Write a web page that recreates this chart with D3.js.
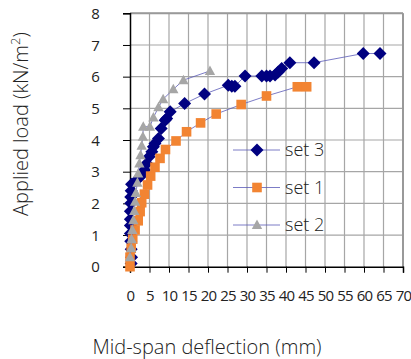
<!DOCTYPE html>
<html>
<head>
<meta charset="utf-8">
<script src="https://cdn.jsdelivr.net/npm/d3@7"></script>
<style>
  body { margin: 0; background: #fff; }
  text { font-family: "Open Sans", "Noto Sans", sans-serif; fill: #222; }
</style>
</head>
<body>
<div id="chart"></div>
<script>
// deflection (mm), load (kN/m2)
var set3 = [[0.3,0.1],[0.4,0.3],[0.3,0.55],[0.2,0.8],[0.1,1.05],[0.1,1.3],[0.1,1.5],[0.1,1.75],
  [0.2,2.0],[0.2,2.2],[0.3,2.4],[0.4,2.6],[1.7,2.73],[3.0,2.89],[3.7,3.05],[4.3,3.26],[4.9,3.47],
  [5.6,3.63],[6.0,3.79],[6.4,3.89],[7.3,4.05],[8.0,4.36],[9.0,4.62],[9.4,4.68],[10.3,4.89],
  [14.0,5.15],[19.1,5.45],[25.2,5.73],[26.1,5.70],[26.9,5.70],[29.5,6.02],[33.8,6.02],[35.0,6.02],
  [35.9,6.02],[37.2,6.05],[38.0,6.15],[38.9,6.26],[41.0,6.44],[47.2,6.44],[59.8,6.73],[64.1,6.73]];
var set1 = [[0,0],[0,0.30],[0.3,0.58],[0.7,0.87],[1.3,1.16],[2.1,1.45],[2.6,1.74],[3.0,2.02],
  [3.7,2.29],[4.5,2.58],[5.3,2.86],[6.4,3.14],[7.7,3.42],[9.1,3.70],[11.8,3.97],[14.5,4.26],
  [18.1,4.54],[22.1,4.82],[28.5,5.12],[35.0,5.39],[42.9,5.68],[45.3,5.68]];
var set2 = [[0,0.30],[0.3,0.58],[0.4,0.87],[0.6,1.16],[0.85,1.47],[1.1,1.76],[1.3,2.05],[1.5,2.33],
  [1.9,2.65],[2.1,2.94],[2.4,3.26],[2.7,3.52],[3.0,3.82],[3.3,4.10],[3.4,4.42],[5.1,4.42],
  [6.0,4.71],[7.3,5.03],[8.5,5.29],[11.1,5.60],[13.7,5.89],[20.5,6.18]];
var xTicks = [0,5,10,15,20,25,30,35,40,45,50,55,60,65,70];
var yTicks = [0,1,2,3,4,5,6,7,8];

var W = 411, H = 359;
var svg = d3.select("#chart").append("svg").attr("width", W).attr("height", H);

var x = d3.scaleLinear().domain([0, 70]).range([130, 403]);
var y = d3.scaleLinear().domain([0, 8]).range([266.7, 13.3]);

// grid
svg.append("g").selectAll("line").data(xTicks.slice(1)).enter().append("line")
  .attr("x1", d => x(d)).attr("x2", d => x(d))
  .attr("y1", y(0)).attr("y2", y(8))
  .attr("stroke", "#a6a6a6").attr("stroke-width", 1.2);
svg.append("g").selectAll("line").data(yTicks.slice(1)).enter().append("line")
  .attr("x1", x(0)).attr("x2", x(70))
  .attr("y1", d => y(d)).attr("y2", d => y(d))
  .attr("stroke", "#a6a6a6").attr("stroke-width", 1.2);
svg.append("line").attr("x1", x(70)).attr("x2", x(70)).attr("y1", y(0)).attr("y2", y(8))
  .attr("stroke", "#999").attr("stroke-width", 2);
svg.append("line").attr("x1", x(0)).attr("x2", x(70)).attr("y1", y(8)).attr("y2", y(8))
  .attr("stroke", "#999").attr("stroke-width", 2);

// axes
var xAxis = svg.append("g").attr("transform", "translate(0," + y(0) + ")")
  .call(d3.axisBottom(x).tickValues(xTicks).tickSize(6).tickPadding(18).tickFormat(d3.format("d")));
var yAxis = svg.append("g").attr("transform", "translate(" + x(0) + ",0)")
  .call(d3.axisLeft(y).tickValues(yTicks).tickSize(7).tickPadding(24).tickFormat(d3.format("d")));
[xAxis, yAxis].forEach(function(a) {
  a.select(".domain").attr("stroke", "#000").attr("stroke-width", 1.5);
  a.selectAll(".tick line").attr("stroke", "#000");
  a.selectAll("text").style("font-size", "15px").attr("letter-spacing", "-0.8px")
    .style("font-family", "'Open Sans', sans-serif").attr("fill", "#222");
});
yAxis.selectAll("text").attr("dy", "0.35em");

// titles
svg.append("text").attr("transform", "translate(28,124) rotate(-90)")
  .attr("text-anchor", "middle").style("font-size", "20px").style("font-weight", 300)
  .html("Applied load (kN/m<tspan dy='-8' font-size='13px'>2</tspan><tspan dy='8'>)</tspan>");
svg.append("text").attr("x", 207).attr("y", 354).attr("text-anchor", "middle")
  .style("font-size", "20px").style("font-weight", 300).text("Mid-span deflection (mm)");

var lineColor = "#5a5ab8";
var line = d3.line().x(d => x(d[0])).y(d => y(d[1]));

function marker(g, type, color) {
  if (type === "diamond") {
    g.append("path").attr("d", "M0,-6.5L6.5,0L0,6.5L-6.5,0Z").attr("fill", color);
  } else if (type === "square") {
    g.append("rect").attr("x", -4.8).attr("y", -4.8).attr("width", 9.6).attr("height", 9.6).attr("fill", color);
  } else {
    g.append("path").attr("d", "M0,-5.5L5.2,4L-5.2,4Z").attr("fill", color);
  }
}

var series = [
  {name: "set 3", data: set3, type: "diamond", color: "#000080"},
  {name: "set 1", data: set1, type: "square", color: "#f28432"},
  {name: "set 2", data: set2, type: "triangle", color: "#a6a6a6"}
];

series.forEach(function(s) {
  svg.append("path").datum(s.data).attr("d", line)
    .attr("fill", "none").attr("stroke", lineColor).attr("stroke-width", 0.8);
  svg.append("g").selectAll("g").data(s.data).enter().append("g")
    .attr("transform", d => "translate(" + x(d[0]) + "," + y(d[1]) + ")")
    .each(function() { marker(d3.select(this), s.type, s.color); });
});

// legend
var legend = svg.append("g");
series.forEach(function(s, i) {
  var ly = 150 + i * 37.5;
  legend.append("line").attr("x1", 233).attr("x2", 280).attr("y1", ly).attr("y2", ly)
    .attr("stroke", lineColor).attr("stroke-width", 0.8);
  var m = legend.append("g").attr("transform", "translate(257," + ly + ")");
  marker(m, s.type, s.color);
  legend.append("text").attr("x", 285).attr("y", ly).attr("dy", "0.35em")
    .style("font-size", "18px").style("font-weight", 300).text(s.name);
});
</script>
</body>
</html>
